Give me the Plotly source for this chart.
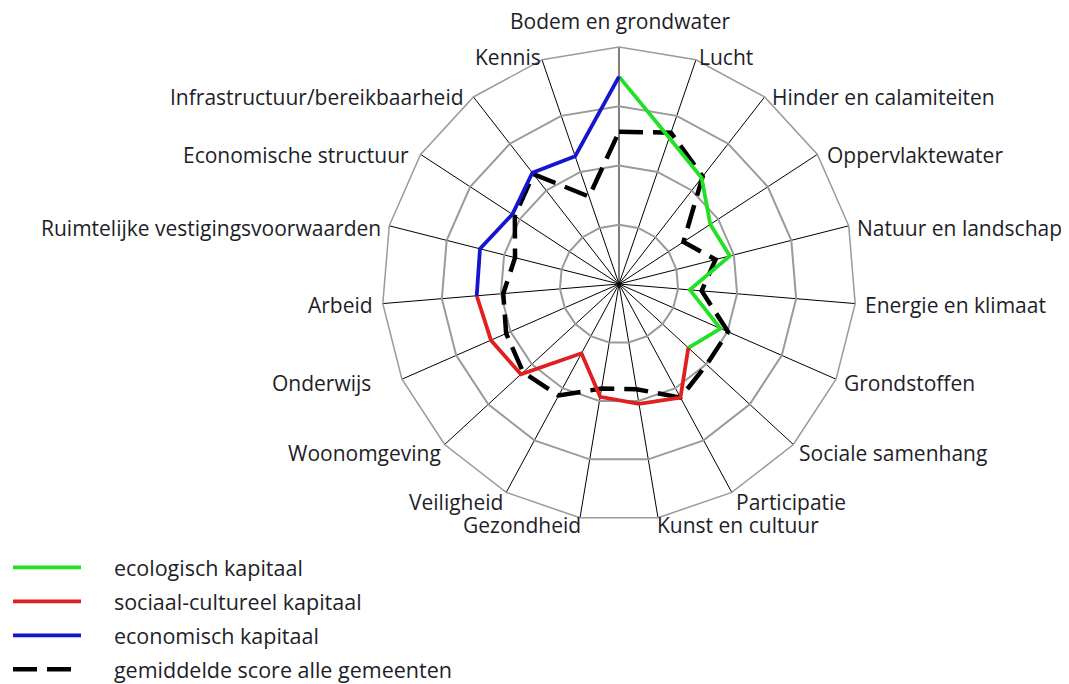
import plotly.graph_objects as go

categories = [
    "Bodem en grondwater", "Lucht", "Hinder en calamiteiten", "Oppervlaktewater",
    "Natuur en landschap", "Energie en klimaat", "Grondstoffen", "Sociale samenhang",
    "Participatie", "Kunst en cultuur", "Gezondheid", "Veiligheid", "Woonomgeving",
    "Onderwijs", "Arbeid", "Ruimtelijke vestigingsvoorwaarden", "Economische structuur",
    "Infrastructuur/bereikbaarheid", "Kennis",
]

eco_cats = categories[0:8]
eco_vals = [3.50, 2.61, 2.27, 1.84, 1.93, 1.20, 1.87, 1.59]

soc_cats = categories[7:15]
soc_vals = [1.59, 2.18, 2.05, 1.93, 1.33, 2.25, 2.36, 2.41]

econ_cats = categories[14:19] + [categories[0]]
econ_vals = [2.41, 2.42, 2.15, 2.38, 2.28, 3.50]

avg_vals = [2.57, 2.70, 2.30, 1.30, 1.68, 1.40, 2.01, 2.01, 2.18, 1.80,
            1.79, 2.14, 2.20, 2.08, 1.96, 1.81, 2.10, 2.35, 1.56]

series_names = ["ecologisch kapitaal", "sociaal-cultureel kapitaal",
                "economisch kapitaal", "gemiddelde score alle gemeenten"]

# layout: on-screen anchor of each category label (x, y, xanchor)
label_layout = [
    (620, 21, "center"), (700, 57, "left"), (773, 97, "left"), (828, 155, "left"),
    (858, 228, "left"), (866, 305, "left"), (845, 383, "left"), (800, 453, "left"),
    (737, 502, "left"), (658, 525, "left"), (580, 525, "right"), (502, 502, "right"),
    (440, 453, "right"), (370, 383, "right"), (372, 305, "right"), (380, 228, "right"),
    (408, 155, "right"), (463, 97, "right"), (540, 57, "right"),
]

FONT = "Open Sans"
TXT = "#1e1e28"
PAD = "\u00a0" * 5
OFF = 8      # page body margin of the browser
BOXPAD = 3   # annotation box padding around its text

fig = go.Figure()

fig.add_trace(go.Scatterpolar(
    r=avg_vals + [avg_vals[0]], theta=categories + [categories[0]],
    mode="lines", name=PAD + series_names[3], legendrank=4, legendgroup="d",
    line=dict(color="black", width=4.5, dash="24px,10px"),
))
fig.add_trace(go.Scatterpolar(
    r=eco_vals, theta=eco_cats, mode="lines", name=PAD + series_names[0],
    legendrank=1, legendgroup="a",
    line=dict(color="#22e022", width=3.8),
))
fig.add_trace(go.Scatterpolar(
    r=soc_vals, theta=soc_cats, mode="lines", name=PAD + series_names[1],
    legendrank=2, legendgroup="b",
    line=dict(color="#e02020", width=3.8),
))
fig.add_trace(go.Scatterpolar(
    r=econ_vals, theta=econ_cats, mode="lines", name=PAD + series_names[2],
    legendrank=3, legendgroup="c",
    line=dict(color="#1515d0", width=3.8),
))

W, H = 1069, 684
cx, cy, R = 619 - OFF, 284 - OFF, 237

annotations = []
for name, (lx, ly, anc) in zip(categories, label_layout):
    x = lx - OFF + {"left": -BOXPAD, "right": BOXPAD, "center": 0}[anc]
    y = ly - OFF
    annotations.append(dict(
        text=name, x=x / W, y=1 - y / H, xref="paper", yref="paper",
        xanchor=anc, yanchor="middle", showarrow=False,
        font=dict(family=FONT, size=21, color=TXT),
    ))

fig.update_layout(
    width=W, height=H,
    margin=dict(l=0, r=0, t=0, b=0),
    paper_bgcolor="white",
    font=dict(family=FONT, size=21, color=TXT),
    showlegend=True,
    annotations=annotations,
    legend=dict(
        x=0.0, y=0.003, xanchor="left", yanchor="bottom",
        traceorder="grouped", tracegroupgap=3, itemwidth=68,
        font=dict(family=FONT, size=21.5, color=TXT),
        bgcolor="rgba(0,0,0,0)",
    ),
    polar=dict(
        domain=dict(x=[(cx - R) / W, (cx + R) / W],
                    y=[(H - cy - R) / H, (H - cy + R) / H]),
        gridshape="linear",
        bgcolor="white",
        angularaxis=dict(
            type="category", categoryarray=categories,
            direction="clockwise", rotation=90,
            showgrid=True, gridcolor="black", gridwidth=1.2,
            showline=True, linecolor="#9a9a9a", linewidth=1.5,
            ticks="", showticklabels=False,
        ),
        radialaxis=dict(
            range=[0, 4], tickvals=[1, 2, 3, 4],
            showticklabels=False, ticks="", showline=False,
            gridcolor="#9a9a9a", gridwidth=1.5,
        ),
    ),
)

fig.write_html("out.html")
